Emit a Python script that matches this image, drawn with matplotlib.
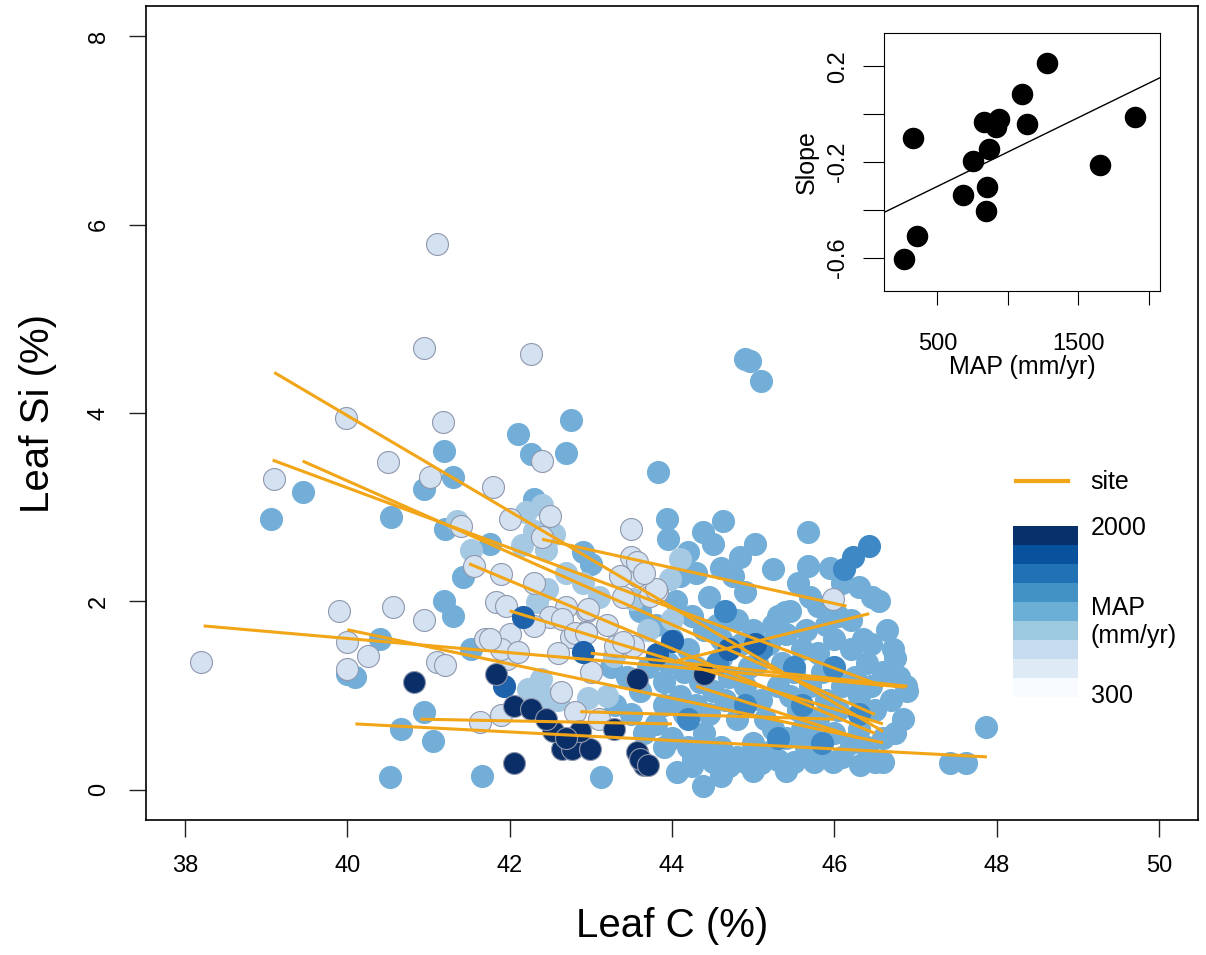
import numpy as np
import matplotlib
matplotlib.use("Agg")
import matplotlib.pyplot as plt
from matplotlib.patches import Rectangle
from matplotlib.lines import Line2D

plt.rcParams['font.family'] = ['Liberation Sans', 'DejaVu Sans']

# ---------------- data ----------------
pale_x = [38.2, 39.98, 39.1, 40.5, 40.94, 41.1, 42.26, 41.18, 42.4, 41.02, 41.8, 42.0, 42.5, 42.4, 43.5,
          41.4, 41.56, 41.89, 42.3, 41.83, 41.95, 42.7, 42.95, 42.5, 43.5, 39.9, 40.56, 40.94, 40.0, 40.25,
          41.1, 41.2, 41.7, 42.0, 42.3, 42.75, 42.93, 43.3, 41.97, 40.0, 43.57, 43.36, 43.52, 41.89, 42.1,
          42.63, 41.64, 41.89, 42.8, 43.81, 42.65, 42.8, 42.94, 41.76, 42.96, 43.57, 43.73, 43.8, 43.4, 45.98,
          43.0, 43.2, 43.4, 43.65, 42.6, 43.1]
pale_y = [1.36, 3.95, 3.30, 3.48, 4.69, 5.79, 4.63, 3.90, 3.49, 3.32, 3.21, 2.88, 2.91, 2.68, 2.77,
          2.80, 2.38, 2.29, 2.20, 1.99, 1.95, 1.94, 1.90, 1.83, 2.47, 1.90, 1.94, 1.80, 1.57, 1.42,
          1.36, 1.32, 1.60, 1.65, 1.74, 1.62, 1.68, 1.53, 1.39, 1.28, 2.27, 2.27, 1.53, 1.50, 1.46,
          1.04, 0.72, 0.79, 0.83, 2.10, 1.81, 1.66, 1.66, 1.60, 1.92, 2.42, 2.06, 2.13, 1.57, 2.03,
          1.25, 1.75, 2.05, 2.30, 1.45, 0.75]

light_x = [42.2, 42.4, 42.3, 42.55, 42.15, 42.45, 42.34, 42.46, 42.38, 42.22, 42.46, 42.96, 43.2, 43.28,
           43.52, 44.0, 44.1, 43.98, 41.52, 41.35, 42.7, 42.9, 43.1, 43.7, 42.6]
light_y = [2.95, 3.02, 2.75, 2.72, 2.60, 2.55, 1.99, 2.13, 1.18, 1.07, 0.97, 0.97, 1.00, 1.42,
           2.03, 1.81, 2.45, 2.24, 2.55, 2.85, 2.30, 2.20, 2.05, 1.70, 0.95]

mid_x = [39.45, 39.06, 40.54, 41.19, 41.3, 40.94, 42.1, 42.75, 42.69, 42.26, 42.3, 41.2, 41.76, 41.42,
         41.19, 41.3, 40.0, 40.1, 40.4, 41.52, 42.9, 43.0,
         44.96, 45.1, 44.9, 43.83, 43.94, 43.95, 44.38, 44.63, 44.5, 44.84, 45.02, 45.25, 45.68, 45.68,
         46.47, 45.39, 44.75, 44.2, 44.1, 46.72, 46.88, 47.87, 47.42, 47.62, 44.38, 44.06, 46.6, 46.31,
         45.98, 45.78, 40.53, 41.66, 43.12, 40.94, 40.66, 41.05, 44.26,
         43.6, 43.8, 44.0, 44.2, 44.4, 44.6, 44.8, 45.0, 45.2, 45.4, 45.6, 45.8, 46.0, 46.2, 46.4, 46.6, 46.75,
         43.7, 43.9, 44.1, 44.3, 44.5, 44.7, 44.9, 45.1, 45.3, 45.5, 45.7, 45.9, 46.1, 46.3, 46.5, 46.7,
         43.8, 44.0, 44.2, 44.4, 44.6, 44.8, 45.0, 45.2, 45.4, 45.6, 45.8, 46.0, 46.2, 46.4, 46.6,
         44.5, 44.7, 44.9, 45.1, 45.3, 45.5, 45.7, 43.5, 43.3, 43.6, 44.15, 44.6, 45.05, 45.45, 45.8,
         46.2, 45.9, 45.3, 44.9, 44.45, 44.05, 46.1, 46.35, 46.85, 46.9, 45.95, 46.55, 46.65, 44.3,
         44.8, 45.15, 45.55, 44.45, 43.9,
         44.25, 44.55, 44.85, 45.25, 45.65, 46.05, 46.45, 46.25, 45.85, 45.35, 44.95, 44.35, 43.95, 44.15,
         44.65, 45.45, 46.05, 46.45, 46.8, 45.75, 46.1, 44.25, 44.6, 45.0, 45.4, 43.9, 44.35, 45.25, 45.65,
         46.5, 46.3, 46.75, 43.45, 43.25, 43.65, 45.7, 46.3, 45.55, 44.6, 44.3]
mid_y = [3.16, 2.88, 2.90, 3.60, 3.32, 3.19, 3.78, 3.93, 3.58, 3.56, 3.09, 2.77, 2.61, 2.26,
         2.00, 1.85, 1.23, 1.20, 1.60, 1.50, 2.52, 2.40,
         4.55, 4.34, 4.57, 3.37, 2.88, 2.66, 2.74, 2.85, 2.61, 2.47, 2.61, 2.34, 2.74, 2.38,
         2.05, 1.89, 2.27, 2.52, 2.27, 1.50, 1.10, 0.67, 0.28, 0.28, 0.04, 0.19, 0.30, 0.26,
         0.30, 0.40, 0.14, 0.15, 0.14, 0.83, 0.65, 0.52, 0.33,
         1.90, 1.75, 1.60, 1.50, 1.70, 1.60, 1.80, 1.70, 1.55, 1.65, 1.50, 1.45, 1.60, 1.50, 1.35, 1.25, 1.40,
         1.30, 1.15, 1.00, 0.90, 1.05, 1.20, 1.10, 0.95, 1.10, 1.25, 1.10, 0.95, 1.10, 1.00, 0.85, 0.95,
         0.70, 0.55, 0.45, 0.60, 0.45, 0.35, 0.50, 0.40, 0.55, 0.65, 0.75, 0.60, 0.50, 0.45, 0.55,
         0.30, 0.25, 0.30, 0.28, 0.32, 0.30, 0.60, 0.80, 0.90, 1.05, 1.25, 1.40, 1.35, 1.90, 1.95,
         1.80, 1.75, 1.85, 2.10, 2.05, 2.00, 2.20, 1.60, 0.75, 1.05, 2.35, 2.00, 1.70, 1.30,
         0.75, 0.75, 0.85, 0.80, 0.90,
         1.85, 1.75, 1.55, 1.75, 1.70, 1.85, 1.55, 1.20, 1.25, 1.35, 1.30, 1.15, 1.35, 0.80,
         0.95, 1.00, 0.85, 1.10, 1.20, 0.30, 0.35, 0.25, 0.15, 0.20, 0.20, 0.45, 0.45, 0.65, 0.45,
         0.30, 0.65, 0.60, 1.20, 1.30, 0.60, 2.05, 2.15, 2.20, 2.35, 2.30]

mdark_x = [46.43, 46.23, 46.12, 45.1, 44.55, 45.6, 44.9, 45.3, 46.0, 44.2, 45.85, 46.3, 44.65, 45.5]
mdark_y = [2.59, 2.47, 2.34, 1.50, 1.35, 0.90, 0.90, 0.55, 1.30, 0.75, 0.50, 0.80, 1.90, 1.30]

dark_x = [42.17, 42.9, 43.81, 44.0, 41.93, 45.02, 44.7]
dark_y = [1.84, 1.46, 1.44, 1.58, 1.10, 1.55, 1.50]

navy_x = [40.82, 42.05, 41.83, 42.05, 42.26, 42.65, 42.77, 42.99, 42.54, 42.87, 43.57, 43.65, 43.57,
          44.4, 43.28, 43.6, 43.7, 42.7, 42.45]
navy_y = [1.15, 0.29, 1.23, 0.89, 0.86, 0.43, 0.43, 0.43, 0.62, 0.62, 0.40, 0.26, 1.18,
          1.23, 0.65, 0.33, 0.26, 0.55, 0.75]

# site regression lines (start/end in Leaf C, Leaf Si)
site_x0 = [39.10, 39.08, 39.45, 38.23, 40.00, 40.10, 40.90, 42.87, 42.40, 44.06, 41.50, 42.00, 43.00, 44.30]
site_y0 = [4.43, 3.50, 3.49, 1.74, 1.70, 0.70, 0.75, 0.83, 2.66, 1.37, 2.40, 1.90, 1.45, 1.10]
site_x1 = [46.60, 46.60, 46.50, 46.87, 46.60, 47.88, 44.00, 46.00, 46.15, 46.43, 46.50, 46.60, 46.90, 46.30]
site_y1 = [0.62, 1.10, 0.80, 1.09, 0.50, 0.35, 0.70, 0.75, 1.95, 1.87, 0.60, 0.70, 1.10, 0.55]

# inset: site slope vs MAP
map_vals = [262, 352, 324, 679, 750, 850, 845, 869, 833, 940, 917, 1100, 1136, 1279, 1655, 1905]
slope_vals = [-0.606, -0.511, -0.098, -0.337, -0.195, -0.306, -0.404, -0.146, -0.034, -0.020, -0.055,
              0.084, -0.043, 0.213, -0.211, -0.013]
fit_intercept = -0.446
fit_slope = 0.000288

legend_colors = ['#08306B', '#08519C', '#2171B5', '#4292C6', '#6BAED6', '#9ECAE1', '#C6DBEF', '#DEEBF7', '#F7FBFF']
legend_labels = ['2000', 'MAP\n(mm/yr)', '300']

# ---------------- figure ----------------
W, H = 1206, 955
fig = plt.figure(figsize=(W / 100, H / 100), dpi=100)
ax = fig.add_axes([146 / W, 1 - 820 / H, (1198 - 146) / W, (820 - 6) / H])
ax.set_xlim(37.52, 50.48)
ax.set_ylim(-0.32, 8.32)

orange = '#F2A516'
groups = [
    (mid_x, mid_y, '#72AED8', '#72AED8'),
    (light_x, light_y, '#A6C9E3', '#A6C9E3'),
    (pale_x, pale_y, '#D3E1F0', '#8F98AE'),
    (mdark_x, mdark_y, '#3E89C5', '#3E89C5'),
    (dark_x, dark_y, '#1D62AA', '#1D62AA'),
    (navy_x, navy_y, '#0A2F68', '#8F98AE'),
]
for gx, gy, fc, ec in groups:
    ax.scatter(gx, gy, s=250, facecolors=fc, edgecolors=ec, linewidths=0.8, zorder=2)

for x0, y0, x1, y1 in zip(site_x0, site_y0, site_x1, site_y1):
    ax.plot([x0, x1], [y0, y1], color=orange, lw=2.2, zorder=3, solid_capstyle='butt')

ax.set_xticks([38, 40, 42, 44, 46, 48, 50])
ax.set_yticks([0, 2, 4, 6, 8])
ax.tick_params(direction='out', length=12, width=1, labelsize=17, color='#222222')
ax.tick_params(axis='x', pad=13)
ax.tick_params(axis='y', pad=14)
for lab in ax.get_yticklabels():
    lab.set_rotation(90)
    lab.set_va('center')
ax.set_xlabel('Leaf C (%)', fontsize=29, labelpad=22)
ax.set_ylabel('Leaf Si (%)', fontsize=29, labelpad=22)
for sp in ax.spines.values():
    sp.set_linewidth(1.2)

# legend (axes fraction from pixel positions)
def fx(px):
    return (px - 146) / (1198 - 146)
def fy(py):
    return (820 - py) / (820 - 6)

ax.add_line(Line2D([fx(1016), fx(1068)], [fy(481), fy(481)], transform=ax.transAxes, color=orange, lw=3))
ax.text(fx(1090), fy(482), 'site', transform=ax.transAxes, fontsize=18, va='center', ha='left')
band_top, band_h = 526, 19
for i, c in enumerate(legend_colors):
    ax.add_patch(Rectangle((fx(1013), fy(band_top + (i + 1) * band_h)), fx(1078) - fx(1013),
                           fy(band_top) - fy(band_top + band_h), transform=ax.transAxes,
                           facecolor=c, edgecolor='none'))
ax.text(fx(1091), fy(528), legend_labels[0], transform=ax.transAxes, fontsize=18, va='center')
ax.text(fx(1091), fy(622), legend_labels[1], transform=ax.transAxes, fontsize=18, va='center', linespacing=1.25)
ax.text(fx(1091), fy(696), legend_labels[2], transform=ax.transAxes, fontsize=18, va='center')

# inset
iax = fig.add_axes([884 / W, 1 - 291 / H, (1160 - 884) / W, (291 - 33) / H])
iax.set_xlim(121, 2079)
iax.set_ylim(-0.74, 0.34)
iax.scatter(map_vals, slope_vals, s=210, color='black', zorder=3)
xx = np.array(iax.get_xlim())
iax.plot(xx, fit_intercept + fit_slope * xx, color='black', lw=1)
iax.set_xticks([500, 1000, 1500, 2000])
iax.set_xticklabels(['500', '', '1500', ''])
iax.set_yticks([-0.6, -0.4, -0.2, 0.0, 0.2])
iax.set_yticklabels(['-0.6', '', '-0.2', '', '0.2'])
iax.tick_params(axis='x', direction='out', length=10, labelsize=17, pad=20)
iax.tick_params(axis='y', direction='out', length=15, labelsize=17, pad=10)
for lab in iax.get_yticklabels():
    lab.set_rotation(90)
    lab.set_va('center')
iax.set_xlabel('MAP (mm/yr)', fontsize=18, labelpad=0)
iax.set_ylabel('Slope', fontsize=18, labelpad=6)

fig.savefig('out.png', dpi=100)
